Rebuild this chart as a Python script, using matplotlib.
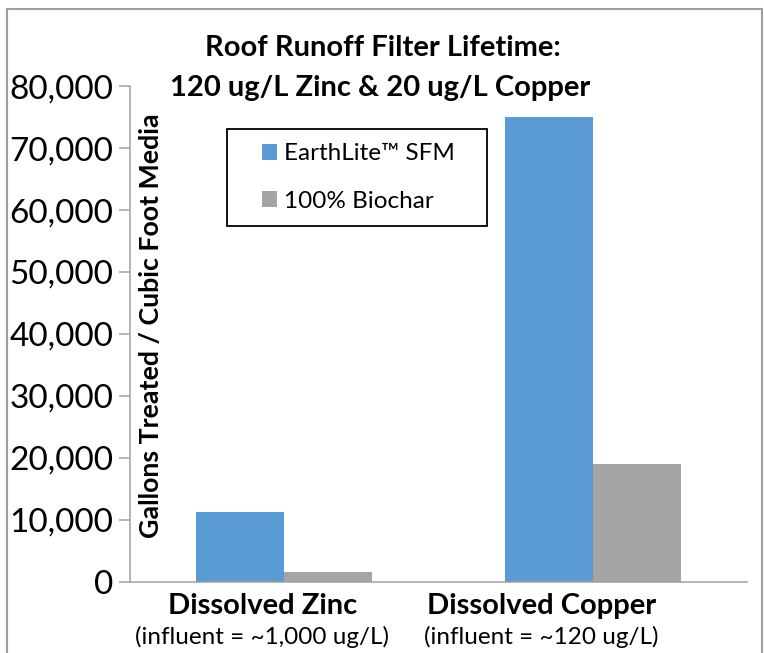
import matplotlib
matplotlib.use("Agg")
import matplotlib.pyplot as plt
from matplotlib.patches import Rectangle
from matplotlib.ticker import FuncFormatter
import matplotlib.transforms as mtransforms
import numpy as np

plt.rcParams['font.family'] = ['Lato', 'DejaVu Sans']

categories = ["Dissolved Zinc", "Dissolved Copper"]
subtitles = ["(influent = ~1,000 ug/L)", "(influent = ~120 ug/L)"]
series_names = ["EarthLite\u2122 SFM", "100% Biochar"]
earthlite = [11200, 75000]
biochar = [1500, 19000]
colors = ["#5B9BD5", "#A5A5A5"]
yticks = [0, 10000, 20000, 30000, 40000, 50000, 60000, 70000, 80000]

# horizontal pixel shifts of category label blocks (as in the reference)
label_shift_px = [-22, -51]

W, H = 764, 653
fig = plt.figure(figsize=(W / 100, H / 100), dpi=100)


def fx(px):
    return px / W


def fy(py):
    return 1 - py / H


# outer border
fig.patches.append(Rectangle((fx(6.5), -0.1), fx(762) - fx(6.5), 1.1 - 9.5 / H,
                             transform=fig.transFigure, fill=False,
                             edgecolor="#A0A0A0", linewidth=1.5))

ax = fig.add_axes([fx(130), fy(581.5), fx(747) - fx(130), fy(86.3) - fy(581.5)])

x = np.arange(len(categories))
bw = 0.285
ax.bar(x - bw / 2, earthlite, width=bw, color=colors[0], label=series_names[0])
ax.bar(x + bw / 2, biochar, width=bw, color=colors[1], label=series_names[1])

ax.set_xlim(-0.5, 1.5)
ax.set_ylim(0, 80000)
ax.set_yticks(yticks)
ax.yaxis.set_major_formatter(FuncFormatter(lambda v, p: f"{int(v):,}"))
ax.tick_params(axis='y', direction='out', length=8, width=1.1, color="#A0A0A0",
               labelsize=24, pad=4)
ax.set_xticks(x)
ax.set_xticklabels([])
ax.tick_params(axis='x', length=0)

for s in ["top", "right"]:
    ax.spines[s].set_visible(False)
for s in ["left", "bottom"]:
    ax.spines[s].set_color("#A0A0A0")
    ax.spines[s].set_linewidth(1.1)

trans = mtransforms.blended_transform_factory(ax.transData, ax.transAxes)
for i, (cat, sub) in enumerate(zip(categories, subtitles)):
    dx = label_shift_px[i] * 0.72  # px -> points at 100 dpi
    ax.annotate(cat, xy=(x[i], 0), xycoords=trans, xytext=(dx, -17.5),
                textcoords='offset points', ha='center', va='center',
                fontsize=21, fontweight='bold')
    ax.annotate(sub, xy=(x[i], 0), xycoords=trans, xytext=(dx, -39.8),
                textcoords='offset points', ha='center', va='center', fontsize=17.5)

fig.text(fx(383), fy(48), "Roof Runoff Filter Lifetime:", ha='center', va='center',
         fontsize=21, fontweight='bold')
fig.text(fx(380), fy(88), "120 ug/L Zinc & 20 ug/L Copper", ha='center', va='center',
         fontsize=21, fontweight='bold')

fig.text(fx(151), fy(326), "Gallons Treated / Cubic Foot Media", rotation=90,
         ha='center', va='center', fontsize=19.3, fontweight='bold')

# legend (frameless) + box
leg = ax.legend(loc='center left',
                bbox_to_anchor=ax.transAxes.inverted().transform(
                    fig.transFigure.transform((fx(262), fy(177.5)))),
                fontsize=17.5, frameon=False, handlelength=0.62, handleheight=0.62,
                labelspacing=1.07, borderpad=0, handletextpad=0.3, borderaxespad=0)
fig.patches.append(Rectangle((fx(227), fy(226)), fx(487) - fx(227), fy(129) - fy(226),
                             transform=fig.transFigure, fill=False,
                             edgecolor="black", linewidth=1.3))

fig.savefig("out.png", dpi=100)
